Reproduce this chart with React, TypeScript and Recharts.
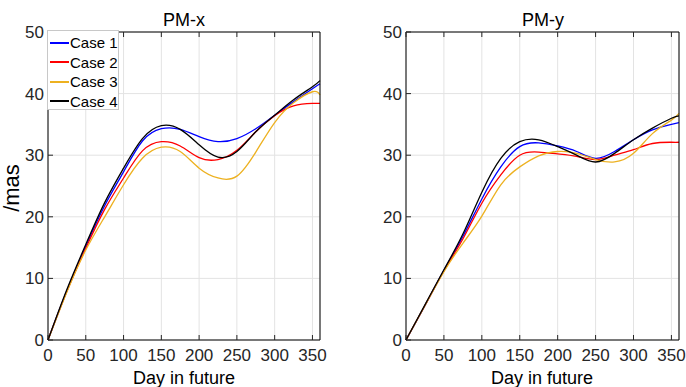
import React from 'react';
import { LineChart, Line, XAxis, YAxis, CartesianGrid, Legend } from 'recharts';

const days = [0, 25, 50, 75, 100, 125, 150, 175, 200, 225, 250, 275, 300, 325, 350, 360];

// PM-x
const pmxCase1 = [0, 8.0, 15.2, 21.8, 27.3, 32.3, 34.3, 34.2, 33.0, 32.2, 32.7, 34.3, 36.5, 38.7, 40.8, 41.6];
const pmxCase2 = [0, 7.9, 14.9, 21.2, 26.3, 30.7, 32.2, 31.5, 29.6, 29.3, 30.8, 33.8, 36.4, 38.0, 38.4, 38.4];
const pmxCase3 = [0, 7.8, 14.6, 20.0, 25.2, 29.5, 31.3, 30.6, 27.9, 26.3, 26.6, 30.5, 35.3, 38.5, 40.3, 39.8];
const pmxCase4 = [0, 8.2, 15.5, 22.3, 27.9, 32.7, 34.8, 34.2, 31.7, 29.7, 30.6, 33.8, 36.5, 39.0, 41.1, 42.1];

// PM-y
const pmyCase1 = [0, 5.6, 11.3, 16.8, 22.9, 28.1, 31.4, 32.0, 31.5, 30.6, 29.5, 30.6, 32.5, 34.1, 35.0, 35.3];
const pmyCase2 = [0, 5.6, 11.2, 16.4, 22.2, 26.8, 30.0, 30.5, 30.2, 29.8, 29.3, 30.0, 30.9, 31.9, 32.1, 32.1];
const pmyCase3 = [0, 5.6, 11.1, 15.7, 20.1, 25.2, 28.1, 29.9, 30.6, 30.3, 29.3, 28.9, 30.3, 33.5, 35.7, 36.8];
const pmyCase4 = [0, 5.7, 11.4, 17.2, 24.0, 29.5, 32.2, 32.5, 31.4, 30.0, 28.9, 30.3, 32.5, 34.4, 36.0, 36.4];

const xTicks = [0, 50, 100, 150, 200, 250, 300, 350];
const yTicks = [0, 10, 20, 30, 40, 50];
const seriesKeys = ['c1', 'c2', 'c3', 'c4'];
const seriesNames = ['Case 1', 'Case 2', 'Case 3', 'Case 4'];
const seriesColors = ['#0000ff', '#ff0000', '#edb120', '#000000'];

const build = (cols: number[][]) =>
  days.map((d, i) => ({ day: d, c1: cols[0][i], c2: cols[1][i], c3: cols[2][i], c4: cols[3][i] }));

const pmxData = build([pmxCase1, pmxCase2, pmxCase3, pmxCase4]);
const pmyData = build([pmyCase1, pmyCase2, pmyCase3, pmyCase4]);

const FONT = "'Liberation Sans', Arial, Helvetica, sans-serif";
const TXT = '#262626';
const TL = 5;

const BottomTick = (p: any) => (
  <g>
    <line x1={p.x} x2={p.x} y1={p.y} y2={p.y - TL} stroke={TXT} />
    <text x={p.x} y={p.y + 21} textAnchor="middle" fontSize={17} fill={TXT} fontFamily={FONT}>
      {p.payload.value}
    </text>
  </g>
);
const TopTick = (p: any) => (
  <line x1={p.x} x2={p.x} y1={p.y} y2={p.y + TL} stroke={TXT} />
);
const LeftTick = (p: any) => (
  <g>
    <line x1={p.x} x2={p.x + TL} y1={p.y} y2={p.y} stroke={TXT} />
    <text x={p.x - 4} y={p.y + 6} textAnchor="end" fontSize={17} fill={TXT} fontFamily={FONT}>
      {p.payload.value}
    </text>
  </g>
);
const RightTick = (p: any) => (
  <line x1={p.x - TL} x2={p.x} y1={p.y} y2={p.y} stroke={TXT} />
);

const LegendBox = (props: any) => {
  const payload = props.payload || [];
  return (
    <div
      style={{
        width: 72,
        height: 80,
        boxSizing: 'border-box',
        background: '#fff',
        border: '1px solid #c8c8c8',
        paddingTop: 2,
        fontFamily: FONT,
        fontSize: 15,
        color: '#000',
      }}
    >
      {payload.map((e: any) => (
        <div key={e.value} style={{ height: 19.5, display: 'flex', alignItems: 'center' }}>
          <svg width={20} height={4} style={{ marginLeft: 2, flex: 'none' }}>
            <line x1={0} x2={19} y1={2} y2={2} stroke={e.color} strokeWidth={2} />
          </svg>
          <span style={{ marginLeft: 0, lineHeight: '19px' }}>{e.value}</span>
        </div>
      ))}
    </div>
  );
};

// plot area: top 32, bottom 340; left/right depends on panel
function Panel(props: { data: any[]; plotLeft: number; plotRight: number; legend: boolean }) {
  const { data, plotLeft, plotRight, legend } = props;
  const YW = 30;
  const XH = 30;
  const margin = { top: 31, right: 343 - plotRight - 1, bottom: 387 - 340 - XH, left: plotLeft - YW };
  return (
    <LineChart width={343} height={387} data={data} margin={margin}>
      <CartesianGrid stroke="#e3e3e3" />
      <XAxis
        xAxisId={0}
        dataKey="day"
        type="number"
        domain={[0, 360]}
        ticks={xTicks}
        height={XH}
        tickSize={0}
        tickMargin={0}
        tickLine={false}
        axisLine={{ stroke: '#000' }}
        tick={BottomTick}
        interval={0}
      />
      <XAxis
        xAxisId="top"
        orientation="top"
        dataKey="day"
        type="number"
        domain={[0, 360]}
        ticks={xTicks}
        height={1}
        tickSize={0}
        tickMargin={0}
        tickLine={false}
        axisLine={{ stroke: '#000' }}
        tick={TopTick}
        interval={0}
      />
      <YAxis
        yAxisId={0}
        type="number"
        domain={[0, 50]}
        ticks={yTicks}
        width={YW}
        tickSize={0}
        tickMargin={0}
        tickLine={false}
        axisLine={{ stroke: '#000' }}
        tick={LeftTick}
        interval={0}
      />
      <YAxis
        yAxisId="right"
        orientation="right"
        type="number"
        domain={[0, 50]}
        ticks={yTicks}
        width={1}
        tickSize={0}
        tickMargin={0}
        tickLine={false}
        axisLine={{ stroke: '#000' }}
        tick={RightTick}
        interval={0}
      />
      {seriesKeys.map((k, i) => (
        <Line
          key={k}
          xAxisId={0}
          yAxisId={0}
          dataKey={k}
          name={seriesNames[i]}
          stroke={seriesColors[i]}
          strokeWidth={1.3}
          type="natural"
          dot={false}
          activeDot={false}
          isAnimationActive={false}
          legendType="line"
        />
      ))}
      {legend && (
        <Legend
          layout="vertical"
          align="center"
          verticalAlign="middle"
          content={LegendBox}
          wrapperStyle={{ left: 47, top: 30, width: 72, height: 80 }}
        />
      )}
    </LineChart>
  );
}

const textStyle: React.CSSProperties = {
  position: 'absolute',
  fontFamily: FONT,
  fontSize: 18,
  color: '#000',
  lineHeight: '18px',
  whiteSpace: 'nowrap',
  transform: 'translateX(-50%)',
};

export default function App() {
  return (
    <div style={{ position: 'absolute', left: 0, top: 0, width: 686, height: 387, background: '#fff', overflow: 'hidden' }}>
      <div style={{ position: 'absolute', left: 0, top: 0 }}>
        <Panel data={pmxData} plotLeft={48} plotRight={320} legend={true} />
      </div>
      <div style={{ position: 'absolute', left: 343, top: 0 }}>
        <Panel data={pmyData} plotLeft={63} plotRight={336} legend={false} />
      </div>
      <div style={{ ...textStyle, left: 184, top: 11 }}>PM-x</div>
      <div style={{ ...textStyle, left: 543, top: 11 }}>PM-y</div>
      <div style={{ ...textStyle, left: 184, top: 369 }}>Day in future</div>
      <div style={{ ...textStyle, left: 542, top: 369 }}>Day in future</div>
      <svg style={{ position: 'absolute', left: 0, top: 0 }} width={30} height={387}>
        <text transform="translate(19,188) rotate(-90)" textAnchor="middle" fontSize={22} fontFamily={FONT} fill="#000">
          /mas
        </text>
      </svg>
    </div>
  );
}
